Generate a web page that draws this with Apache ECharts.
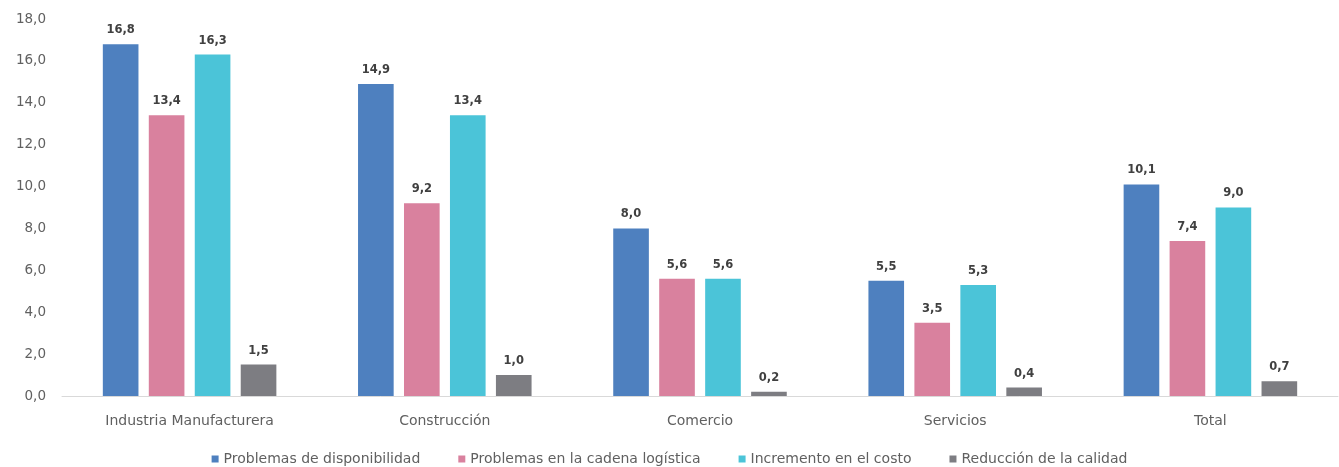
<!DOCTYPE html>
<html><head><meta charset="utf-8">
<script src="https://cdn.jsdelivr.net/npm/echarts@6/dist/echarts.min.js"></script>
<style>html,body{margin:0;padding:0;background:#fff}#c{width:1339px;height:467px}</style>
</head><body><div id="c"></div>
<script>
const categories = ["Industria Manufacturera","Construcción","Comercio","Servicios","Total"];
const seriesNames = ["Problemas de disponibilidad","Problemas en la cadena logística","Incremento en el costo","Reducción de la calidad"];
const disponibilidad = [16.8, 14.9, 8.0, 5.5, 10.1];
const logistica = [13.4, 9.2, 5.6, 3.5, 7.4];
const costo = [16.3, 13.4, 5.6, 5.3, 9.0];
const calidad = [1.5, 1.0, 0.2, 0.4, 0.7];
const colors = ["#4e80bf", "#d9819e", "#4bc4d8", "#7d7d82"];
const fmt = v => v.toFixed(1).replace('.', ',');
const font = "'DejaVu Sans', sans-serif";
const chart = echarts.init(document.getElementById('c'));
const data = [disponibilidad, logistica, costo, calidad];
chart.setOption({
  animation: false,
  textStyle: {fontFamily: font},
  grid: {left: 62, right: 1, top: 19, bottom: 71},
  legend: {
    top: 447, left: 'center', itemWidth: 7, itemHeight: 7, itemGap: 38, icon: 'rect',
    textStyle: {color: '#606060', fontSize: 14, fontFamily: font},
    data: seriesNames
  },
  xAxis: {
    type: 'category', data: categories,
    axisLine: {lineStyle: {color: '#d9d9d9'}},
    axisTick: {show: false},
    axisLabel: {color: '#606060', fontSize: 14, margin: 18, fontFamily: font}
  },
  yAxis: {
    type: 'value', min: 0, max: 18, interval: 2,
    splitLine: {show: false},
    axisLine: {show: false}, axisTick: {show: false},
    axisLabel: {color: '#606060', fontSize: 13.5, margin: 16, formatter: fmt, fontFamily: font}
  },
  series: seriesNames.map((n, i) => ({
    name: n, type: 'bar', data: data[i],
    barGap: '29%', barCategoryGap: '32%',
    itemStyle: {color: colors[i]},
    label: {show: true, position: 'top', distance: 8, color: '#404040', fontWeight: 'bold', fontSize: 11.5, formatter: p => fmt(p.value), fontFamily: font}
  }))
});
</script></body></html>
